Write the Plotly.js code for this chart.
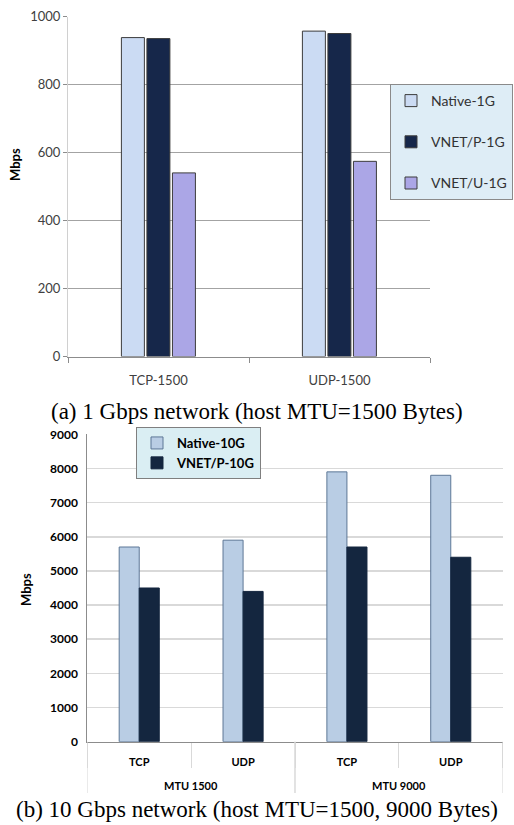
<!DOCTYPE html>
<html>
<head>
<meta charset="utf-8">
<script src="https://cdn.plot.ly/plotly-3.0.1.min.js"></script>
<style>html,body{margin:0;padding:0;background:#fff;}#chart{width:514px;height:825px;}</style>
</head>
<body>
<div id="chart"></div>
<script>
// ---- data: (a) 1 Gbps network ----
const cats1G = ['TCP-1500', 'UDP-1500'];
const native1G = [938, 957];
const vnetP1G = [935, 950];
const vnetU1G = [540, 574];

// ---- data: (b) 10 Gbps network ----
const mtuGroups = ['MTU 1500', 'MTU 1500', 'MTU 9000', 'MTU 9000'];
const protocols = ['TCP', 'UDP', 'TCP', 'UDP'];
const native10G = [5700, 5900, 7900, 7800];
const vnetP10G = [4500, 4400, 5700, 5400];

const seriesNames1G = ['Native-1G', 'VNET/P-1G', 'VNET/U-1G'];
const seriesNames10G = ['Native-10G', 'VNET/P-10G'];
const captions = ['(a) 1 Gbps network (host MTU=1500 Bytes)', '(b) 10 Gbps network (host MTU=1500, 9000 Bytes)'];
const yTitle = 'Mbps';

const W = 514, H = 825;
const px = v => v / W;
const py = v => 1 - v / H;

const sans = 'Lato, "Open Sans", "DejaVu Sans", sans-serif';
const serif = '"Liberation Serif", "Times New Roman", serif';

// unique category keys for the 10G chart, shown with the protocol name only
const keys10G = protocols.map((p, i) => p + ' / ' + mtuGroups[i]);

// group spans (MTU groups) derived from the data order
const groupNames = [...new Set(mtuGroups)];
const groupSpans = groupNames.map(g => {
  const idx = mtuGroups.map((m, i) => m === g ? i : -1).filter(i => i >= 0);
  return {name: g, first: Math.min(...idx), last: Math.max(...idx)};
});

const w1 = 0.127;
const traces = [
  {type:'bar', x:cats1G, y:native1G, name:seriesNames1G[0], xaxis:'x', yaxis:'y', legend:'legend', legendgroup:'a1',
   width:w1, offset:-0.205, marker:{color:'#cbdbf3', line:{color:'#3c3c3c', width:1}}},
  {type:'bar', x:cats1G, y:vnetP1G, name:seriesNames1G[1], xaxis:'x', yaxis:'y', legend:'legend', legendgroup:'a2',
   width:w1, offset:-0.064, marker:{color:'#16274a', line:{color:'#3c3c3c', width:1}}},
  {type:'bar', x:cats1G, y:vnetU1G, name:seriesNames1G[2], xaxis:'x', yaxis:'y', legend:'legend', legendgroup:'a3',
   width:w1, offset:0.077, marker:{color:'#aba6e6', line:{color:'#3c3c3c', width:1}}},
  {type:'bar', x:keys10G, y:native10G, name:seriesNames10G[0], xaxis:'x2', yaxis:'y2', legend:'legend2',
   width:0.193, offset:-0.193, marker:{color:'#b9cde4', line:{color:'#5d7796', width:1}}},
  {type:'bar', x:keys10G, y:vnetP10G, name:seriesNames10G[1], xaxis:'x2', yaxis:'y2', legend:'legend2',
   width:0.193, offset:0, marker:{color:'#14263f', line:{color:'#14263f', width:1}}}
];

const divColor = '#d9d9d9';
const shapes = [];
groupSpans.forEach(s => {
  [s.first - 0.5, s.last + 0.5].forEach(b => {
    shapes.push({type:'line', xref:'x2', yref:'paper', x0:b, x1:b, y0:py(741.7), y1:py(793),
      line:{color:divColor, width:1}});
  });
});

const annotations = [
  {text:yTitle, xref:'paper', yref:'paper', x:px(15), y:py(165), xanchor:'center', yanchor:'middle', textangle:-90, showarrow:false,
   font:{size:13, color:'#000000', family:sans, weight:'bold'}},
  {text:yTitle, xref:'paper', yref:'paper', x:px(26), y:py(590), xanchor:'center', yanchor:'middle', textangle:-90, showarrow:false,
   font:{size:13, color:'#000000', family:sans, weight:'bold'}},
  {text:captions[0], xref:'paper', yref:'paper', x:px(257), y:py(411), xanchor:'center', yanchor:'middle', showarrow:false,
   font:{size:23, color:'#000000', family:serif}},
  {text:captions[1], xref:'paper', yref:'paper', x:px(257), y:py(809), xanchor:'center', yanchor:'middle', showarrow:false,
   font:{size:23, color:'#000000', family:serif}}
];
groupSpans.forEach(s => {
  annotations.push({text:s.name, xref:'x2', yref:'paper', x:(s.first + s.last) / 2, y:py(785),
    xanchor:'center', yanchor:'middle', showarrow:false, font:{size:11, color:'#000000', family:sans, weight:'bold'}});
});

const layout = {
  width:W, height:H,
  margin:{l:0, r:0, t:0, b:0, autoexpand:false},
  paper_bgcolor:'#ffffff', plot_bgcolor:'#ffffff',
  barmode:'overlay',
  font:{family:sans, color:'#404040'},
  xaxis:{domain:[px(68), px(430)], anchor:'y', showline:true, linecolor:'#8c8c8c', linewidth:1,
    ticks:'outside', tickson:'boundaries', ticklen:5, tickcolor:'#8c8c8c', ticklabelstandoff:12,
    tickfont:{size:13, color:'#404040', family:sans}, showgrid:false, zeroline:false},
  yaxis:{domain:[py(356.5), py(16.5)], anchor:'x', range:[0, 1000], dtick:200, showline:true, linecolor:'#d0d0d0',
    ticks:'outside', ticklen:4, tickcolor:'#8c8c8c', gridcolor:'#a3a3a3', gridwidth:1, zeroline:false,
    tickfont:{size:13, color:'#404040', family:sans}, ticklabelstandoff:0},
  xaxis2:{domain:[px(87.3), px(502.7)], anchor:'y2', type:'category', range:[-0.5, keys10G.length - 0.5],
    tickmode:'array', tickvals:keys10G, ticktext:protocols,
    showline:true, linecolor:'#8c8c8c', linewidth:1,
    ticks:'outside', tickson:'boundaries', ticklen:25, tickcolor:divColor, ticklabelstandoff:10,
    tickfont:{size:11, color:'#000000', family:sans, weight:'bold'}, showgrid:false, zeroline:false},
  yaxis2:{domain:[py(741.7), py(434.3)], anchor:'x2', range:[0, 9000], dtick:1000, showline:true, linecolor:'#8c8c8c',
    ticks:'', gridcolor:'#d9d9d9', gridwidth:1.5, zeroline:false,
    tickfont:{size:12, color:'#000000', family:sans, weight:'bold'}, ticklabelstandoff:6},
  legend:{x:px(390), y:py(84), xanchor:'left', yanchor:'top', bgcolor:'#deedf6', bordercolor:'#8a8a8a', borderwidth:1,
    font:{size:14, color:'#333333', family:sans}, tracegroupgap:20, itemwidth:30, traceorder:'grouped'},
  legend2:{x:px(136), y:py(427), xanchor:'left', yanchor:'top', bgcolor:'#daeef3', bordercolor:'#7f7f7f', borderwidth:1,
    font:{size:13, color:'#000000', family:sans, weight:'bold'}, itemwidth:30, traceorder:'normal', tracegroupgap:0},
  shapes:shapes,
  annotations:annotations,
  showlegend:true
};

Plotly.newPlot('chart', traces, layout, {staticPlot:true, displayModeBar:false});
</script>
</body>
</html>
